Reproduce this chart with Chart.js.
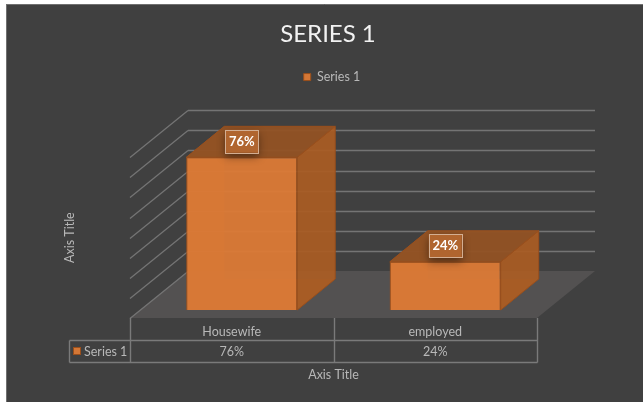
<!DOCTYPE html>
<html>
<head>
<meta charset="utf-8">
<title>Series 1</title>
<script src="https://cdn.jsdelivr.net/npm/chart.js@4/dist/chart.umd.min.js"></script>
<style>
    html, body { margin: 0; padding: 0; background: #fff; }
    canvas { display: block; }
</style>
</head>
<body>
<canvas id="chart" width="643" height="402"></canvas>
<script>
// Chart data
const categories = ['Housewife', 'employed'];
const seriesName = 'Series 1';
const seriesValues = [76, 24];
const axisMax = 80;
const axisStep = 10;

// Colours
const textColor = '#b8b8b8';
const lineColor = '#747474';
const orange = 'rgba(220,122,54,0.95)';
const edge = '#9a4f1c';
const font = 'Lato';

// Depth of the fake 3D box
const wall = { dx: 58, dy: -47 };   // back wall against the front plane
const barPlane = { dx: 10, dy: -8 }; // bars stand a bit behind the front plane
const barDepth = { dx: 38, dy: -31 };

const poly = (ctx, pts, fill, stroke) => {
    ctx.beginPath();
    pts.forEach((p, i) => i ? ctx.lineTo(p[0], p[1]) : ctx.moveTo(p[0], p[1]));
    ctx.closePath();
    if (fill) { ctx.fillStyle = fill; ctx.fill(); }
    if (stroke) { ctx.strokeStyle = stroke; ctx.lineWidth = 1; ctx.stroke(); }
};

const line = (ctx, x1, y1, x2, y2) => {
    ctx.beginPath();
    ctx.moveTo(x1, y1);
    ctx.lineTo(x2, y2);
    ctx.stroke();
};

// Front face corners of each bar in canvas pixels (bar plane offset included)
const barBoxes = (chart) => chart.getDatasetMeta(0).data.map((bar) => ({
    l: bar.x - bar.width / 2 + barPlane.dx,
    r: bar.x + bar.width / 2 + barPlane.dx,
    t: bar.y + barPlane.dy,
    b: bar.base + barPlane.dy
}));

const box3d = {
    id: 'box3d',
    beforeInit(chart) {
        // room between the legend and the plot
        const fit = chart.legend.fit;
        chart.legend.fit = function () {
            fit.call(this);
            this.height += 64;
        };
    },
    afterLayout(chart) {
        // title and legend are centred a bit off the plot
        chart.titleBlock.left = 228; chart.titleBlock.right = 428;
        chart.legend.left = 232; chart.legend.right = 432;
    },
    beforeDraw(chart) {
        const { ctx, width, height } = chart;
        ctx.save();
        ctx.fillStyle = '#fff';
        ctx.fillRect(0, 0, width, height);
        ctx.fillStyle = '#404040';
        ctx.fillRect(6, 4, width - 6, height - 4);
        ctx.strokeStyle = '#707070';
        ctx.lineWidth = 1;
        line(ctx, 6.5, 4, 6.5, height);
        line(ctx, 6, 4.5, width, 4.5);
        ctx.restore();
    },
    beforeDatasetsDraw(chart) {
        const { ctx, chartArea: a, scales } = chart;
        ctx.save();
        // floor
        poly(ctx, [[a.left, a.bottom], [a.left + wall.dx, a.bottom + wall.dy],
            [a.right + wall.dx, a.bottom + wall.dy], [a.right, a.bottom]], '#535151');
        // gridlines on the side and back walls
        ctx.strokeStyle = lineColor;
        ctx.lineWidth = 1.3;
        scales.y.ticks.forEach((t) => {
            const y = Math.round(scales.y.getPixelForValue(t.value)) + 0.5;
            line(ctx, a.left, y, a.left + wall.dx, y + wall.dy);
            if (t.value > 0) line(ctx, a.left + wall.dx, y + wall.dy, a.right + wall.dx, y + wall.dy);
        });
        // inner edges of the bars, they show through the front face
        barBoxes(chart).forEach((b) => {
            const d = barDepth;
            poly(ctx, [[b.l, b.b], [b.l + d.dx, b.b + d.dy], [b.l + d.dx, b.t + d.dy], [b.l, b.t]], 'rgba(170,90,32,0.5)');
            poly(ctx, [[b.l, b.b], [b.l + d.dx, b.b + d.dy], [b.r + d.dx, b.b + d.dy], [b.r, b.b]], 'rgba(170,90,32,0.5)');
        });
        ctx.restore();
        // the bars themselves sit on the bar plane
        ctx.save();
        ctx.translate(barPlane.dx, barPlane.dy);
    },
    afterDatasetsDraw(chart) {
        const { ctx } = chart;
        ctx.restore();
        ctx.save();
        const d = barDepth;
        barBoxes(chart).forEach((b, i) => {
            // side and top faces
            poly(ctx, [[b.r, b.t], [b.r + d.dx, b.t + d.dy], [b.r + d.dx, b.b + d.dy], [b.r, b.b]], 'rgba(170,92,36,0.93)', edge);
            poly(ctx, [[b.l, b.t], [b.l + d.dx, b.t + d.dy], [b.r + d.dx, b.t + d.dy], [b.r, b.t]], 'rgba(146,82,36,0.95)', edge);
            // value label
            const cx = (b.l + b.r) / 2, cy = b.t - 16;
            ctx.save();
            ctx.shadowColor = 'rgba(0,0,0,0.45)';
            ctx.shadowBlur = 9;
            ctx.shadowOffsetY = 4;
            ctx.fillStyle = '#b0652f';
            ctx.fillRect(cx - 16.5, cy - 11.5, 33, 23);
            ctx.restore();
            ctx.strokeStyle = '#d3ae92';
            ctx.lineWidth = 1;
            ctx.strokeRect(Math.round(cx - 16.5) + 0.5, Math.round(cy - 11.5) + 0.5, 33, 23);
            ctx.fillStyle = '#fff';
            ctx.font = `bold 13px ${font}`;
            ctx.textAlign = 'center';
            ctx.textBaseline = 'middle';
            ctx.fillText(seriesValues[i] + '%', cx, cy + 0.5);
        });
        ctx.restore();
    },
    afterDraw(chart) {
        // data table under the axis
        const { ctx, chartArea: a, scales } = chart;
        const rowTop = 340.5, rowBottom = 362.5, keyLeft = 69.5;
        ctx.save();
        ctx.strokeStyle = '#7a7a7a';
        ctx.lineWidth = 1.4;
        line(ctx, keyLeft, rowTop, a.right + 0.5, rowTop);
        line(ctx, keyLeft, rowBottom, a.right + 0.5, rowBottom);
        line(ctx, keyLeft, rowTop, keyLeft, rowBottom);
        const edges = [a.left, (a.left + a.right) / 2, a.right];
        edges.forEach((x) => line(ctx, Math.round(x) + 0.5, a.bottom, Math.round(x) + 0.5, rowBottom));
        // key and series name
        ctx.fillStyle = orange;
        ctx.strokeStyle = edge;
        ctx.lineWidth = 1;
        ctx.fillRect(73, 347, 8, 8);
        ctx.strokeRect(73.5, 347.5, 7, 7);
        ctx.fillStyle = textColor;
        ctx.font = `12.5px ${font}`;
        ctx.textBaseline = 'middle';
        ctx.textAlign = 'left';
        ctx.fillText(seriesName, 84, 351.5);
        ctx.textAlign = 'center';
        seriesValues.forEach((v, i) => {
            ctx.fillText(v + '%', scales.x.getPixelForTick(i), 351.5);
        });
        ctx.restore();
    }
};

new Chart(document.getElementById('chart'), {
    type: 'bar',
    data: {
        labels: categories,
        datasets: [{
            label: seriesName,
            data: seriesValues,
            backgroundColor: orange,
            borderColor: edge,
            borderWidth: 1,
            barPercentage: 0.545,
            categoryPercentage: 1,
            clip: false
        }]
    },
    plugins: [box3d],
    options: {
        responsive: false,
        animation: false,
        devicePixelRatio: 1,
        layout: { padding: { left: 0, right: 106, top: 0, bottom: 0 } },
        plugins: {
            tooltip: { enabled: false },
            title: {
                display: true,
                text: 'SERIES 1',
                color: '#f2f2f2',
                font: { family: font, size: 24, weight: 'normal', lineHeight: 1.2 },
                padding: { top: 20, bottom: 17 }
            },
            legend: {
                display: true,
                position: 'top',
                labels: {
                    color: textColor,
                    font: { family: font, size: 12.5 },
                    boxWidth: 7,
                    boxHeight: 7,
                    padding: 5
                }
            }
        },
        scales: {
            x: {
                grid: { display: false, drawTicks: false },
                border: { display: false },
                ticks: { color: textColor, font: { family: font, size: 12.5 }, padding: 6, maxRotation: 0 },
                title: {
                    display: true,
                    text: 'Axis Title',
                    color: textColor,
                    font: { family: font, size: 12.5 },
                    padding: { top: 0, bottom: 20 }
                },
                afterFit(scale) { scale.height = 84; }
            },
            y: {
                min: 0,
                max: axisMax,
                grid: { display: false },
                border: { display: false },
                ticks: { display: false, stepSize: axisStep },
                title: {
                    display: true,
                    text: 'Axis Title',
                    color: textColor,
                    font: { family: font, size: 12.5 },
                    padding: { top: 62, bottom: 0 }
                },
                afterFit(scale) { scale.width = 130; }
            }
        }
    }
});
</script>
</body>
</html>
